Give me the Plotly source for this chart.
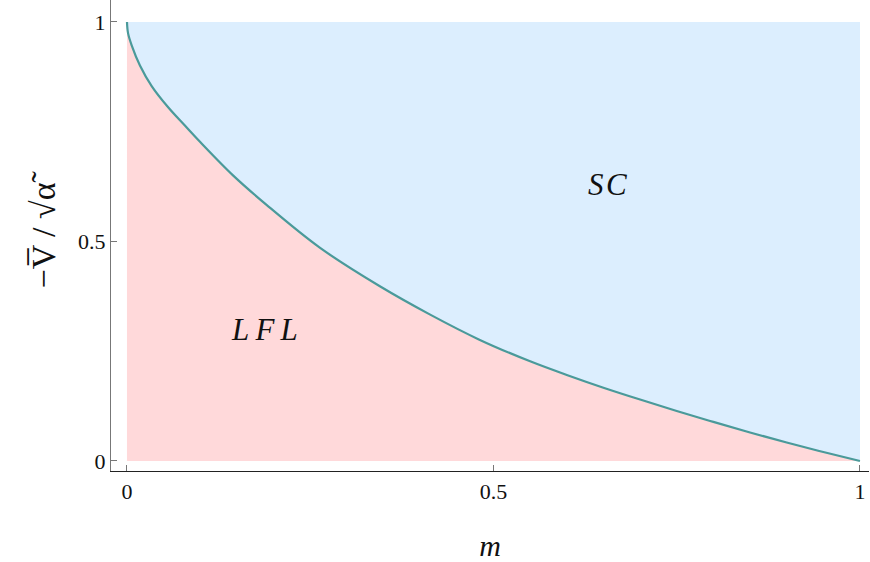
import plotly.graph_objects as go

# Boundary curve
m_vals = [0.0, 0.0015, 0.0064, 0.0177, 0.0337, 0.055, 0.079, 0.0996, 0.145, 0.19, 0.263,
          0.345, 0.413, 0.48, 0.55, 0.60, 0.65, 0.70, 0.75, 0.80, 0.85, 0.90, 0.95, 1.0]
v_vals = [1.0, 0.974, 0.947, 0.901, 0.854, 0.808, 0.764, 0.727, 0.650, 0.584, 0.486,
          0.398, 0.334, 0.277, 0.227, 0.196, 0.167, 0.140, 0.114, 0.089, 0.065, 0.042, 0.0205, 0.0]
top_vals = [1.0] * len(m_vals)

x_ticks = [0, 0.5, 1]
x_tick_labels = ["0", "0.5", "1"]
y_ticks = [0, 0.5, 1]
y_tick_labels = ["0", "0.5", "1"]

region_labels = ["<i>L\u2009F\u2009L</i>", "<i>S\u200aC</i>"]
region_x = [0.188, 0.656]
region_y = [0.30, 0.63]

PINK = "#FFD9DA"
BLUE = "#DCEEFE"
TEAL = "#4A9A9A"
SERIF = "'Liberation Serif', 'Times New Roman', 'DejaVu Serif', serif"

fig = go.Figure()
fig.add_trace(go.Scatter(x=m_vals, y=v_vals, mode="lines", line=dict(width=0, shape="spline", smoothing=1.0),
                         fill="tozeroy", fillcolor=PINK, hoverinfo="skip", showlegend=False))
fig.add_trace(go.Scatter(x=m_vals, y=top_vals, mode="lines", line=dict(width=0),
                         fill="tonexty", fillcolor=BLUE, hoverinfo="skip", showlegend=False))
fig.add_trace(go.Scatter(x=m_vals, y=v_vals, mode="lines",
                         line=dict(color=TEAL, width=2.2, shape="spline", smoothing=1.0),
                         showlegend=False))

for t, xx, yy in zip(region_labels, region_x, region_y):
    fig.add_annotation(x=xx, y=yy, text=t, showarrow=False,
                       font=dict(family=SERIF, size=31, color="#111111"))

fig.update_layout(
    width=870, height=562,
    margin=dict(l=111, r=1, t=0, b=91),
    paper_bgcolor="white", plot_bgcolor="white",
    font=dict(family=SERIF, size=22, color="#111111"),
)
fig.update_xaxes(
    range=[-0.0218, 1.0123], showgrid=False, zeroline=False,
    showline=True, linecolor="#222222", linewidth=1.3,
    tickmode="array", tickvals=x_ticks, ticktext=x_tick_labels,
    ticks="inside", ticklen=6, tickcolor="#777777", tickwidth=1,
    tickfont=dict(family=SERIF, size=22),
    title=dict(text="<i>m</i>", font=dict(family=SERIF, size=30), standoff=32),
)
fig.update_yaxes(
    range=[-0.0228, 1.0501], showgrid=False, zeroline=False,
    showline=True, linecolor="#777777", linewidth=1.3,
    tickmode="array", tickvals=y_ticks, ticktext=y_tick_labels,
    ticks="inside", ticklen=6, tickcolor="#777777", tickwidth=1,
    tickfont=dict(family=SERIF, size=22),
    title=dict(text="−V\u0305 / √α\u0303", font=dict(family=SERIF, size=34), standoff=12),
)

fig.write_html("out.html")
